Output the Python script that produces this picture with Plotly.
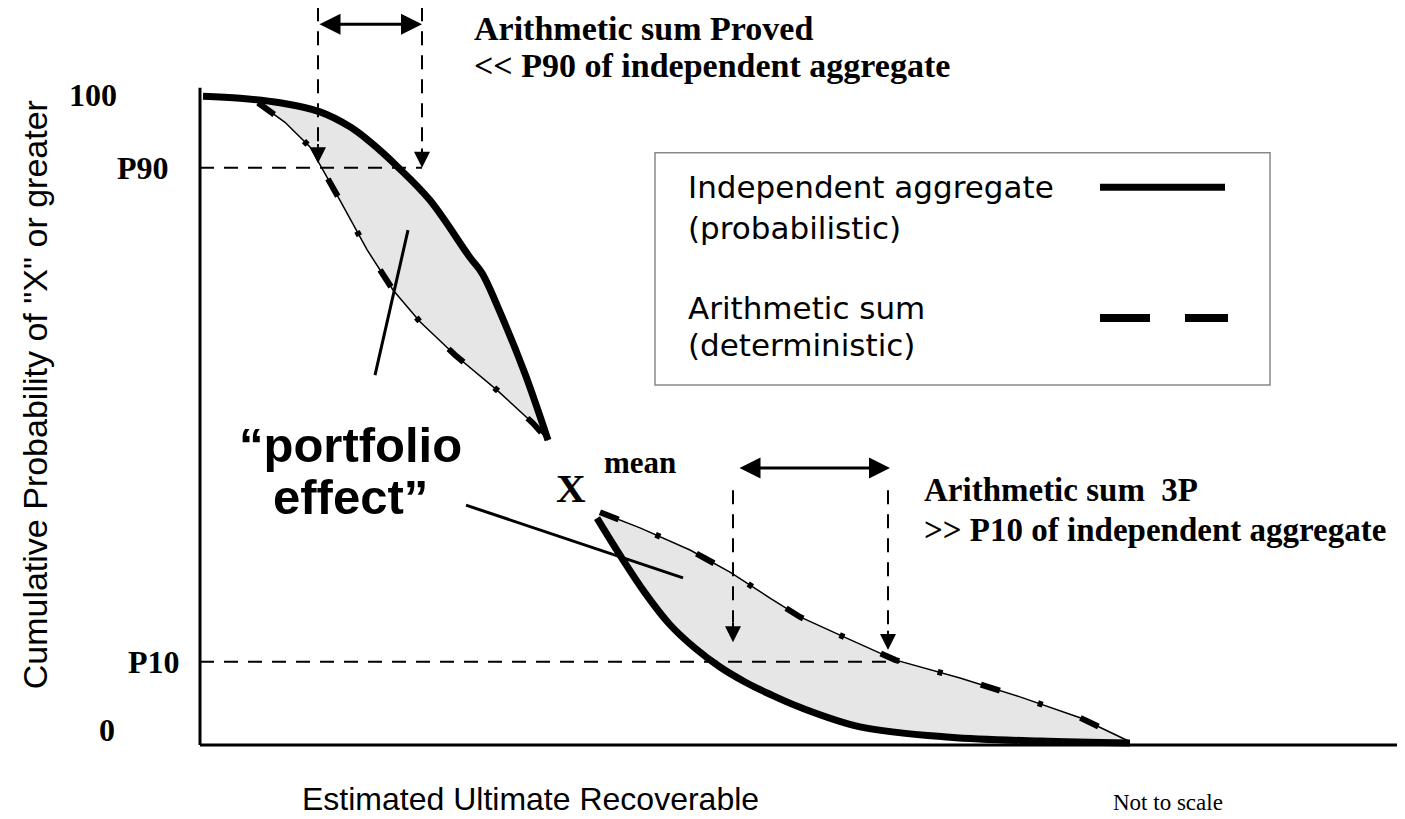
import plotly.graph_objects as go

# x: recoverable volume (arbitrary, not to scale), y: cumulative probability (%)
p90_level = 88.8
p10_level = 12.8

# upper part (high-probability side)
agg_hi_x = [3, 40, 80, 120, 150, 170, 198, 230, 270, 282, 300, 325, 348]
agg_hi_y = [99.8, 99.5, 98.8, 97.4, 95.1, 92.8, 88.9, 83.8, 75.0, 72.6, 66.6, 57.1, 46.9]
sum_hi_x = [58, 85, 110, 122, 140, 167, 193, 220, 255, 297, 333, 348]
sum_hi_y = [98.8, 95.8, 92.0, 88.8, 83.8, 76.2, 70.0, 65.1, 60.0, 54.6, 49.5, 46.9]

# lower part (low-probability side)
agg_lo_x = [397, 420, 445, 470, 495, 520, 545, 570, 600, 660, 750, 840, 930]
agg_lo_y = [34.9, 29.2, 23.4, 18.5, 14.9, 12.0, 9.7, 7.8, 5.8, 2.8, 1.2, 0.6, 0.3]
sum_lo_x = [400, 440, 490, 530, 570, 600, 640, 695, 760, 820, 880, 930]
sum_lo_y = [35.8, 33.4, 30.0, 26.6, 22.6, 19.7, 16.9, 13.1, 10.3, 7.4, 4.2, 0.5]

tick_text = ["100", "P90", "P10", "0"]
tick_vals = [100, p90_level, p10_level, 2.3]

SANS = "Liberation Sans"
WIDE = "DejaVu Sans"
SERIF = "Liberation Serif"
GREY_FILL = "#e6e6e6"

fig = go.Figure()

# shaded "portfolio effect" areas
for ax_, ay_, sx_, sy_ in [(agg_hi_x, agg_hi_y, sum_hi_x, sum_hi_y),
                           (agg_lo_x, agg_lo_y, sum_lo_x, sum_lo_y)]:
    fig.add_trace(go.Scatter(x=ax_ + sx_[::-1], y=ay_ + sy_[::-1], fill="toself",
                             fillcolor=GREY_FILL, line=dict(width=0), mode="lines",
                             hoverinfo="skip", showlegend=False))

# arithmetic sum: thin line with sparse heavy dashes
for sx_, sy_ in [(sum_hi_x, sum_hi_y), (sum_lo_x, sum_lo_y)]:
    fig.add_trace(go.Scatter(x=sx_, y=sy_, mode="lines",
                             line=dict(color="black", width=1.5), showlegend=False))
    fig.add_trace(go.Scatter(x=sx_, y=sy_, mode="lines",
                             line=dict(color="black", width=6, dash="20px,40px,5px,40px"),
                             showlegend=False))

# independent aggregate: thick solid
for ax_, ay_ in [(agg_hi_x, agg_hi_y), (agg_lo_x, agg_lo_y)]:
    fig.add_trace(go.Scatter(x=ax_, y=ay_, mode="lines", line=dict(color="black", width=7),
                             line_shape="spline", showlegend=False))

# axes
fig.add_shape(type="line", x0=0, x1=0, y0=0, y1=101.1, line=dict(color="black", width=3))
fig.add_shape(type="line", x0=0, x1=1210, y0=0, y1=0, line=dict(color="black", width=3))

# P90 / P10 guide lines
dash_style = dict(color="black", width=2, dash="14px,10px")
fig.add_shape(type="line", x0=0, x1=222, y0=p90_level, y1=p90_level, line=dash_style)
fig.add_shape(type="line", x0=0, x1=700, y0=p10_level, y1=p10_level, line=dash_style)

# vertical dashed arrows
for xv, ytop, ytip in [(118, 113.5, 89.5), (222, 113.5, 88.8), (533, 39.2, 15.8), (688, 39.2, 14.6)]:
    fig.add_shape(type="line", x0=xv, x1=xv, y0=ytop, y1=ytip + 3, line=dash_style)
    fig.add_annotation(x=xv, y=ytip, ax=xv, ay=ytip + 3.2, xref="x", yref="y",
                       axref="x", ayref="y", showarrow=True, arrowhead=2, arrowsize=1.6,
                       arrowwidth=2, arrowcolor="black", text="")

# double arrows
for x0, x1, yv in [(118, 222, 110.9), (538, 690, 42.6)]:
    fig.add_annotation(x=x1, y=yv, ax=x0, ay=yv, xref="x", yref="y", axref="x", ayref="y",
                       showarrow=True, arrowhead=2, startarrowhead=2, arrowside="end+start",
                       arrowsize=1.4, startarrowsize=1.4, arrowwidth=3, arrowcolor="black",
                       text="")

# "portfolio effect" pointers
fig.add_shape(type="line", x0=175, y0=56.9, x1=208, y1=79.2, line=dict(color="black", width=3))
fig.add_shape(type="line", x0=266, y0=36.9, x1=483, y1=25.7, line=dict(color="black", width=3))

# legend box
fig.add_shape(type="rect", x0=455, x1=1070, y0=55.4, y1=91.1,
              line=dict(color="#888888", width=1.5), fillcolor="white", layer="below")
fig.add_trace(go.Scatter(x=[900, 1025], y=[85.8, 85.8], mode="lines",
                         line=dict(color="black", width=7), showlegend=False))
fig.add_trace(go.Scatter(x=[900, 1028], y=[65.7, 65.7], mode="lines",
                         line=dict(color="black", width=8, dash="50px,35px"), showlegend=False))


def label(txt, x, y, size, family=SANS, bold=False, xanchor="left", angle=0):
    if bold:
        txt = "<b>" + txt + "</b>"
    fig.add_annotation(x=x, y=y, xref="x", yref="y", text=txt, showarrow=False,
                       xanchor=xanchor, yanchor="middle", textangle=angle,
                       font=dict(family=family, size=size, color="black"))


label("Independent aggregate", 486, 85.8, 31, WIDE)
label("(probabilistic)", 486, 79.5, 31, WIDE)
label("Arithmetic sum", 486, 67.2, 31, WIDE)
label("(deterministic)", 486, 61.5, 31, WIDE)

label("Arithmetic sum Proved", 272, 110.3, 34, SERIF, True)
label("&lt;&lt; P90 of independent aggregate", 272, 104.6, 34, SERIF, True)
label("Arithmetic sum&nbsp;&nbsp;3P", 722, 39.2, 33, SERIF, True)
label("&gt;&gt; P10 of independent aggregate", 722, 33.1, 33, SERIF, True)

label("\u201cportfolio", 150, 46.2, 49, SANS, True, "center")
label("effect\u201d", 150, 38.2, 49, SANS, True, "center")
label("X", 371, 39.6, 41, SERIF, True, "center")
label("mean", 440, 43.4, 31, SERIF, True, "center")

for t, v, xc in zip(tick_text, tick_vals, [-107, -57, -46, -93]):
    label(t, xc, v, 32, SERIF, True, "center")

label("Cumulative Probability of \"X\" or greater", -165, 53.8, 34, SANS, False, "center", -90)
label("Estimated Ultimate Recoverable", 330, -8.3, 32, SANS, False, "center")
label("Not to scale", 968, -8.8, 23, SERIF, False, "center")

# the page puts the figure 8px in from the top-left, so shift the view to compensate
fig.update_layout(width=1397, height=811, margin=dict(l=0, r=0, t=0, b=0),
                  plot_bgcolor="white", paper_bgcolor="white", showlegend=False)
fig.update_xaxes(range=[-192, 1205], visible=False)
fig.update_yaxes(range=[-11.385, 113.385], visible=False)

fig.write_html("out.html")
